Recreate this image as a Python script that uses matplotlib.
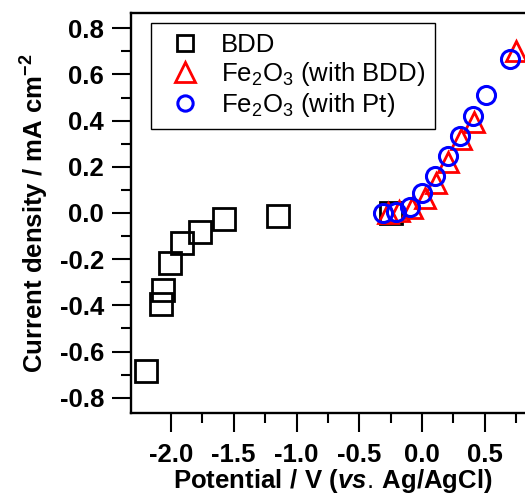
import matplotlib
matplotlib.use("Agg")
import matplotlib.pyplot as plt
from matplotlib.lines import Line2D

plt.rcParams['font.family'] = ['Liberation Sans', 'DejaVu Sans']
plt.rcParams['mathtext.fontset'] = 'custom'
plt.rcParams['mathtext.rm'] = 'Liberation Sans'
plt.rcParams['mathtext.bf'] = 'Liberation Sans:bold'
plt.rcParams['mathtext.it'] = 'Liberation Sans:italic:bold'
plt.rcParams['axes.unicode_minus'] = False

# BDD electrode
bdd_v = [-2.20, -2.08, -2.06, -2.01, -1.91, -1.77, -1.58, -1.15, -0.25]
bdd_j = [-0.684, -0.395, -0.333, -0.215, -0.128, -0.084, -0.026, -0.012, 0.0]

# Fe2O3 measured with BDD counter electrode
fe_bdd_v = [-0.27, -0.18, -0.08, 0.02, 0.11, 0.21, 0.31, 0.41, 0.75]
fe_bdd_j = [0.0, 0.01, 0.02, 0.065, 0.13, 0.22, 0.32, 0.395, 0.70]

# Fe2O3 measured with Pt counter electrode
fe_pt_v = [-0.31, -0.21, -0.10, 0.0, 0.106, 0.207, 0.30, 0.407, 0.505, 0.703]
fe_pt_j = [0.001, 0.006, 0.028, 0.085, 0.16, 0.247, 0.333, 0.42, 0.51, 0.665]

x_ticks = [-2.0, -1.5, -1.0, -0.5, 0.0, 0.5]
y_ticks = [-0.8, -0.6, -0.4, -0.2, 0.0, 0.2, 0.4, 0.6, 0.8]

fig = plt.figure(figsize=(5.25, 4.97), dpi=100)
ax = fig.add_axes([131 / 525, 84 / 497, 404 / 525, 400 / 497])

ax.plot(bdd_v, bdd_j, linestyle='none', marker='s', ms=15.5, mew=2.0,
        mfc='none', mec='black', clip_on=False)
ax.plot(fe_bdd_v, fe_bdd_j, linestyle='none', marker='^', ms=14, mew=2.0,
        mfc='none', mec='#ff0000', clip_on=False)
ax.plot(fe_pt_v, fe_pt_j, linestyle='none', marker='o', ms=13, mew=2.2,
        mfc='none', mec='#0000ff', clip_on=False)

ax.set_xlim(-2.318, 0.899)
ax.set_ylim(-0.866, 0.866)
ax.set_xticks(x_ticks)
ax.set_yticks(y_ticks)
ax.set_xticklabels([f"{v:.1f}" for v in x_ticks])
ax.set_yticklabels([f"{v:.1f}" for v in y_ticks])
ax.set_xticks([-1.75, -1.25, -0.75, -0.25, 0.25, 0.75], minor=True)
ax.set_yticks([-0.7, -0.5, -0.3, -0.1, 0.1, 0.3, 0.5, 0.7], minor=True)

ax.tick_params(which='major', direction='out', length=13.5, width=1.5,
               labelsize=18.5)
ax.tick_params(axis='x', which='major', pad=8)
ax.tick_params(axis='y', which='major', pad=6)
ax.tick_params(which='minor', direction='out', length=7, width=1.5)
ax.tick_params(top=False, right=False, which='both')
for lab in ax.get_xticklabels() + ax.get_yticklabels():
    lab.set_fontweight('bold')
for sp in ax.spines.values():
    sp.set_linewidth(1.7)

ax.set_xlabel(r'$\mathbf{Potential\ /\ V\ (}\mathit{vs.}\,\mathbf{Ag/AgCl)}$',
              fontsize=18.5, labelpad=0)
ax.set_ylabel(r'Current density / mA cm$^{\mathbf{-2}}$', fontsize=18.5,
              fontweight='bold', labelpad=6)

handles = [
    Line2D([], [], linestyle='none', marker='s', ms=11, mew=2.0,
           mfc='none', mec='black'),
    Line2D([], [], linestyle='none', marker='^', ms=14, mew=2.0,
           mfc='none', mec='#ff0000'),
    Line2D([], [], linestyle='none', marker='o', ms=11, mew=2.2,
           mfc='none', mec='#0000ff'),
]
labels = ['BDD', r'Fe$_{2}$O$_{3}$ (with BDD)', r'Fe$_{2}$O$_{3}$ (with Pt)']
leg = ax.legend(handles, labels, loc='upper left',
                bbox_to_anchor=(20 / 404, 390 / 400), borderaxespad=0,
                fontsize=18.5, frameon=True, fancybox=False, framealpha=1,
                edgecolor='black', labelspacing=0.12, handletextpad=0.45,
                borderpad=0.38, handlelength=1.9)
leg.get_frame().set_linewidth(1.0)

fig.savefig('out.png', dpi=100)
